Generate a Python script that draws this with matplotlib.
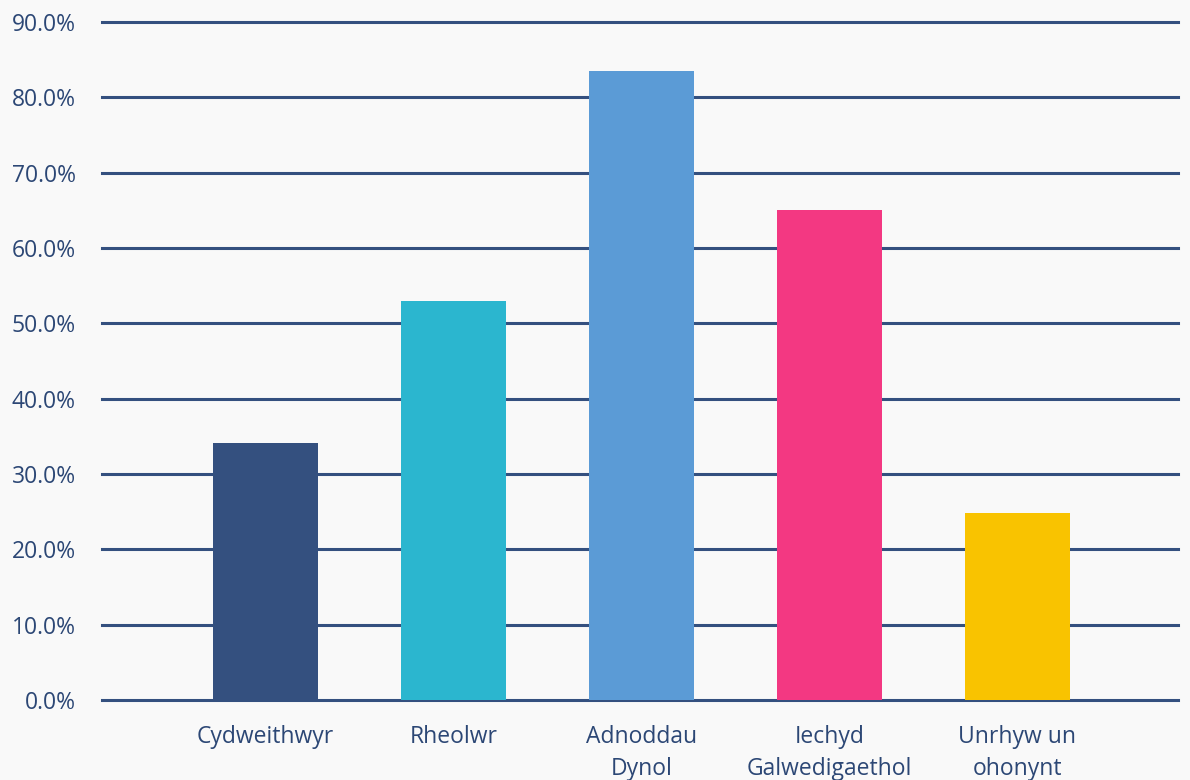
import matplotlib.pyplot as plt
from matplotlib.ticker import FuncFormatter

categories = ['Cydweithwyr', 'Rheolwr', 'Adnoddau\nDynol', 'Iechyd\nGalwedigaethol', 'Unrhyw un\nohonynt']
values = [34.1, 53.0, 83.5, 65.0, 24.8]
colors = ['#34507f', '#2bb6cf', '#5b9bd6', '#f33882', '#f9c300']
yticks = [0, 10, 20, 30, 40, 50, 60, 70, 80, 90]

text_color = '#2c4775'
grid_color = '#34507f'
bg = '#f9f9f9'

plt.rcParams['font.family'] = ['Open Sans', 'DejaVu Sans']

fig = plt.figure(figsize=(11.9, 7.8), dpi=100, facecolor=bg)
ax = fig.add_axes([102 / 1190, 80 / 780, 1076 / 1190, 678 / 780], facecolor=bg)

x = list(range(len(categories)))
ax.bar(x, values, width=0.56, color=colors, zorder=3)

ax.set_ylim(0, 90)
ax.set_xlim(-0.87, 4.855)
ax.set_yticks(yticks)
ax.yaxis.set_major_formatter(FuncFormatter(lambda v, p: f'{v:.1f}%'))
ax.set_xticks(x)
ax.set_xticklabels(categories, linespacing=1.45)

ax.grid(axis='y', color=grid_color, linewidth=2.2, zorder=0)
for gl in ax.get_ygridlines():
    gl.set_clip_on(False)
ax.tick_params(axis='y', length=0, pad=19, labelsize=16.5, labelcolor=text_color)
ax.tick_params(axis='x', length=0, pad=18, labelsize=16.5, labelcolor=text_color)
for s in ax.spines.values():
    s.set_visible(False)

fig.savefig('out.png', dpi=100, facecolor=bg)
